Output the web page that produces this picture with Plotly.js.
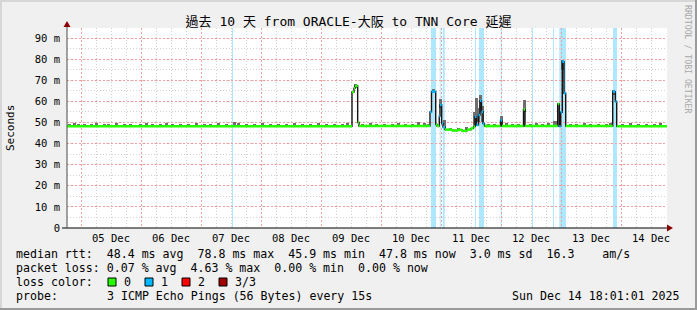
<!DOCTYPE html>
<html><head><meta charset="utf-8">
<script src="https://cdn.plot.ly/plotly-3.0.1.min.js"></script>
<style>html,body{margin:0;padding:0;background:#f0f0f0;}#chart{width:697px;height:310px;}</style>
</head><body><div id="chart"></div>
<script>
// ---- data ----
const xRange = ['2025-12-04 18:24', '2025-12-14 18:24'];
const medTimes = ['2025-12-04 18:24','2025-12-09 12:24','2025-12-09 13:12','2025-12-09 13:36','2025-12-09 14:40','2025-12-09 15:12',
  '2025-12-10 19:36','2025-12-10 20:12','2025-12-10 21:53','2025-12-10 22:24','2025-12-10 23:19','2025-12-10 23:36',
  '2025-12-11 00:17','2025-12-11 00:48','2025-12-11 01:36','2025-12-11 04:24','2025-12-11 06:48','2025-12-11 08:24',
  '2025-12-11 10:24','2025-12-11 12:00','2025-12-11 13:00','2025-12-11 13:36','2025-12-11 14:12','2025-12-11 15:00',
  '2025-12-11 15:36','2025-12-11 16:12','2025-12-11 16:48','2025-12-11 17:24','2025-12-11 23:48','2025-12-12 00:24',
  '2025-12-12 09:00','2025-12-12 09:36','2025-12-12 22:41','2025-12-12 23:19','2025-12-12 23:53','2025-12-13 00:31',
  '2025-12-13 01:12','2025-12-13 01:53','2025-12-13 20:41','2025-12-13 21:43','2025-12-13 22:17','2025-12-14 18:24'];
const medValues = [48.2,64.4,66.2,67.3,50.0,48.3,
  55.0,64.6,49.0,48.3,53.0,58.3,
  49.5,47.8,46.6,46.2,46.5,46.0,
  46.6,47.2,48.0,52.7,48.8,53.5,
  60.3,55.0,49.5,48.3,51.0,48.3,
  56.2,48.3,58.8,48.2,54.8,78.8,
  63.8,48.3,64.6,59.9,48.2,48.2];
const medLoss = [0,0,0,0,0,0,
  1,1,0,0,1,1,
  1,1,0,0,0,0,
  0,0,0,1,1,1,
  1,1,1,0,1,0,
  0,0,0,1,1,1,
  1,0,1,1,0,0];

const smokeTimes = ['2025-12-04 19:12','2025-12-04 21:12','2025-12-04 22:48','2025-12-05 01:12','2025-12-05 04:00','2025-12-05 06:00',
  '2025-12-05 09:12','2025-12-05 10:48','2025-12-05 14:00','2025-12-05 17:12','2025-12-05 19:36','2025-12-05 23:36',
  '2025-12-06 02:00','2025-12-06 04:24','2025-12-06 07:36','2025-12-06 10:00','2025-12-06 12:24','2025-12-06 15:36',
  '2025-12-06 18:48','2025-12-06 22:00','2025-12-07 01:12','2025-12-07 03:36','2025-12-07 06:48','2025-12-07 10:00',
  '2025-12-07 13:12','2025-12-07 14:48','2025-12-07 18:00','2025-12-07 21:12','2025-12-08 00:24','2025-12-08 03:36',
  '2025-12-08 06:48','2025-12-08 10:00','2025-12-08 13:12','2025-12-08 16:24','2025-12-08 19:36','2025-12-08 22:48',
  '2025-12-09 02:00','2025-12-09 05:12','2025-12-09 08:24','2025-12-09 10:24','2025-12-09 13:48','2025-12-09 16:24',
  '2025-12-09 19:36','2025-12-09 22:00','2025-12-10 01:12','2025-12-10 04:24','2025-12-10 06:48','2025-12-10 09:36',
  '2025-12-10 12:24','2025-12-10 14:48','2025-12-10 17:12','2025-12-10 18:48','2025-12-10 20:48','2025-12-10 23:36',
  '2025-12-11 01:12','2025-12-11 03:36','2025-12-11 06:48','2025-12-11 10:00','2025-12-11 13:12','2025-12-11 14:00',
  '2025-12-11 14:48','2025-12-11 15:36','2025-12-11 16:24','2025-12-11 18:48','2025-12-11 21:12','2025-12-12 00:00',
  '2025-12-12 02:00','2025-12-12 04:24','2025-12-12 06:48','2025-12-12 09:12','2025-12-12 11:36','2025-12-12 14:00',
  '2025-12-12 16:24','2025-12-12 18:48','2025-12-12 21:12','2025-12-12 22:00','2025-12-13 00:36','2025-12-13 03:36',
  '2025-12-13 06:00','2025-12-13 09:12','2025-12-13 11:36','2025-12-13 14:48','2025-12-13 18:00','2025-12-13 19:36',
  '2025-12-13 21:00','2025-12-14 00:24','2025-12-14 03:36','2025-12-14 06:48','2025-12-14 10:00','2025-12-14 13:12',
  '2025-12-14 15:36'];
const smokeLo = [48.5,48.5,48.5,48.5,48.5,48.5, 48.5,48.5,48.5,48.5,48.5,48.5,
  48.5,48.5,48.5,48.5,48.5,48.5, 48.5,48.5,48.5,48.5,48.5,48.5,
  48.5,48.5,48.5,48.5,48.5,48.5, 48.5,48.5,48.5,48.5,48.5,48.5,
  48.5,48.5,48.5,48.5,66.5,48.5, 48.5,48.5,48.5,48.5,48.5,48.5,
  48.5,48.5,48.5,48.5,64.0,57.0, 47.5,46.5,46.5,46.5,48.0,50.0,
  50.0,56.0,50.0,48.5,48.5,49.0, 48.5,48.5,48.5,55.0,48.5,48.5,
  48.5,48.5,48.5,48.5,75.0,48.5, 48.5,48.5,48.5,48.5,48.5,48.5,
  63.0,48.5,48.5,48.5,48.5,48.5, 48.5];
const smokeHi = [49.4,49.6,49.3,49.5,49.4,49.7, 49.5,49.4,49.6,49.3,49.5,49.4,
  49.6,49.3,49.5,49.7,49.4,49.5, 49.3,49.6,49.4,49.5,49.6,49.4,
  50.0,49.8,49.5,49.4,49.6,49.3, 49.5,49.4,49.6,49.5,49.3,49.6,
  49.4,49.5,49.3,49.6,68.0,49.5, 49.6,49.4,49.5,49.3,49.6,49.4,
  49.5,50.3,49.6,49.5,66.0,61.0, 51.2,47.6,47.6,47.8,55.0,61.5,
  57.0,63.0,58.0,49.5,49.4,53.0, 49.6,49.4,49.5,60.6,49.4,49.6,
  49.5,49.7,50.6,50.8,79.5,49.5, 49.4,49.6,49.5,49.3,49.5,49.6,
  65.3,49.5,49.6,49.4,49.5,49.3, 49.6];

const lossBandStart = ['2025-12-07 12:24','2025-12-10 20:00','2025-12-10 23:30','2025-12-11 00:41','2025-12-11 13:36','2025-12-11 15:12',
  '2025-12-11 23:53','2025-12-12 12:24','2025-12-12 20:48','2025-12-12 23:19','2025-12-13 20:48'];
const lossBandEnd = ['2025-12-07 12:48','2025-12-10 22:00','2025-12-10 23:54','2025-12-11 01:29','2025-12-11 14:00','2025-12-11 17:12',
  '2025-12-12 00:17','2025-12-12 12:48','2025-12-12 21:12','2025-12-13 02:00','2025-12-13 22:24'];

const yTickVals = [0,10,20,30,40,50,60,70,80,90];
const yTickText = ['0','10 m','20 m','30 m','40 m','50 m','60 m','70 m','80 m','90 m'];

const titleText = '過去 10 天 from ORACLE-大阪 to TNN Core 延遲';
const medianStats = ['48.4 ms avg','78.8 ms max','45.9 ms min','47.8 ms now','3.0 ms sd','16.3    am/s'];
const lossStats = ['0.07 % avg','4.63 % max','0.00 % min','0.00 % now'];
const lossLabels = ['0','1','2','3/3'];
const lossColors = ['#26ff00','#00b8ff','#ff0000','#a00000'];
const probeText = '3 ICMP Echo Pings (56 Bytes) every 15s';
const dateText = 'Sun Dec 14 18:01:01 2025';

// ---- drawing ----
const MONO = '"DejaVu Sans Mono", "Noto Sans CJK TC", monospace';
const nb = s => s.replace(/ /g, '\u00a0');
const W = 697, H = 310, L = 67, T = 28, PW = 600, PH = 200;
const px = x => (x - L) / PW;          // image px -> paper x
const py = y => (T + PH - y) / PH;     // image px -> paper y

const traces = [];
traces.push({type:'bar', x: smokeTimes, base: smokeLo, y: smokeHi.map((h,i)=>h - smokeLo[i]),
  width: 72*60*1000, marker:{color:'#6e6e6e', line:{width:0}}, hoverinfo:'skip', showlegend:false});
traces.push({type:'scatter', mode:'lines', x: medTimes, y: medValues, line:{shape:'hv', color:'#151515', width:1.4},
  hoverinfo:'skip', showlegend:false});
[0,1].forEach(flag => {
  const xs = [], ys = [];
  for (let i = 0; i < medTimes.length - 1; i++) {
    if (medLoss[i] === flag) { xs.push(medTimes[i], medTimes[i+1], null); ys.push(medValues[i], medValues[i], null); }
  }
  traces.push({type:'scatter', mode:'lines', x: xs, y: ys, connectgaps:false,
    line:{color: lossColors[flag], width:2.6}, hoverinfo:'skip', showlegend:false});
});

const shapes = [];
lossBandStart.forEach((s,i) => shapes.push({type:'rect', xref:'x', yref:'paper', x0:s, x1:lossBandEnd[i], y0:0, y1:1,
  fillcolor:'rgba(0,184,255,0.32)', line:{width:0}, layer:'between'}));
// axes with arrows
shapes.push({type:'line', xref:'paper', yref:'paper', x0:px(62), x1:px(668), y0:0, y1:0, line:{color:'#000', width:1}, layer:'above'});
shapes.push({type:'line', xref:'paper', yref:'paper', x0:0, x1:0, y0:0, y1:py(23), line:{color:'#4a4a4a', width:1}, layer:'above'});
shapes.push({type:'path', xref:'paper', yref:'paper', path:`M${px(67)},${py(21)} L${px(63.5)},${py(27)} L${px(70.5)},${py(27)} Z`,
  fillcolor:'#8b0000', line:{width:0}, layer:'above'});
shapes.push({type:'path', xref:'paper', yref:'paper', path:`M${px(673)},${py(228)} L${px(667)},${py(224.5)} L${px(667)},${py(231.5)} Z`,
  fillcolor:'#8b0000', line:{width:0}, layer:'above'});
// frame
shapes.push({type:'line', xref:'paper', yref:'paper', x0:px(0), x1:px(697), y0:py(1), y1:py(1), line:{color:'#d6d6d6', width:2}});
shapes.push({type:'line', xref:'paper', yref:'paper', x0:px(1), x1:px(1), y0:py(0), y1:py(310), line:{color:'#d6d6d6', width:2}});
shapes.push({type:'line', xref:'paper', yref:'paper', x0:px(0), x1:px(697), y0:py(309), y1:py(309), line:{color:'#9a9a9a', width:2}});
shapes.push({type:'line', xref:'paper', yref:'paper', x0:px(696), x1:px(696), y0:py(0), y1:py(310), line:{color:'#9a9a9a', width:2}});

const ann = [];
const legFont = {family: MONO, size: 11.6, color:'#000'};
function txt(x, y, text, opts) {
  ann.push(Object.assign({xref:'paper', yref:'paper', x:px(x), y:py(y), text:nb(text), showarrow:false,
    xanchor:'left', yanchor:'middle', font:legFont, borderpad:0, borderwidth:0}, opts||{}));
}
txt(16, 254, 'median rtt:  ' + medianStats.join('  '));
txt(16, 268, 'packet loss: ' + lossStats.join('  '));
txt(16, 282, 'loss color:');
const boxX = [108, 145, 182, 219], labX = [124, 161, 198, 235];
lossLabels.forEach((lab,i) => {
  shapes.push({type:'rect', xref:'paper', yref:'paper', x0:px(boxX[i]), x1:px(boxX[i]+8), y0:py(286), y1:py(278),
    fillcolor: lossColors[i], line:{color:'#000', width:1}});
  txt(labX[i], 282, lab);
});
txt(16, 296, 'probe:');
txt(107, 296, probeText);
txt(680, 296, dateText, {xanchor:'right'});
txt(10, 128, 'Seconds', {xanchor:'center', textangle:-90, font:{family:MONO, size:11, color:'#000'}});
txt(688, 59, 'RRDTOOL / TOBI OETIKER', {xanchor:'center', textangle:90, font:{family:MONO, size:8.2, color:'#a8a8a8'}});

const layout = {
  width: W, height: H, margin:{l:L, r:W-L-PW, t:T, b:H-T-PH, pad:0},
  paper_bgcolor:'#f0f0f0', plot_bgcolor:'#ffffff', showlegend:false, barmode:'overlay', bargap:0,
  title:{text:titleText, font:{family:MONO, size:13, color:'#000'}, x:0.5, xref:'container', xanchor:'center',
    y:1-21/H, yref:'container', yanchor:'middle'},
  xaxis:{type:'date', range:xRange, tick0:'2025-12-05', dtick:86400000, tickformat:'%d %b', ticklabelmode:'period',
    showgrid:true, gridcolor:'#f3a0a0', griddash:'2px,2px', gridwidth:1, zeroline:false, showline:false, ticks:'',
    tickfont:{family:MONO, size:10.5, color:'#000'}, ticklabelstandoff:2,
    minor:{tick0:'2025-12-05', dtick:21600000, showgrid:true, gridcolor:'#d2d2d2', griddash:'1px,2px', gridwidth:1}},
  yaxis:{range:[0, 94.74], tickmode:'array', tickvals:yTickVals, ticktext:yTickText,
    showgrid:true, gridcolor:'#f3a0a0', griddash:'2px,2px', gridwidth:1, zeroline:false, showline:false, ticks:'',
    tickfont:{family:MONO, size:10.5, color:'#000'}, ticklabelstandoff:6,
    minor:{tickmode:'linear', tick0:0, dtick:5, showgrid:true, gridcolor:'#d2d2d2', griddash:'1px,2px', gridwidth:1}},
  shapes: shapes, annotations: ann
};
Plotly.newPlot('chart', traces, layout, {staticPlot:true, displayModeBar:false});
</script></body></html>
